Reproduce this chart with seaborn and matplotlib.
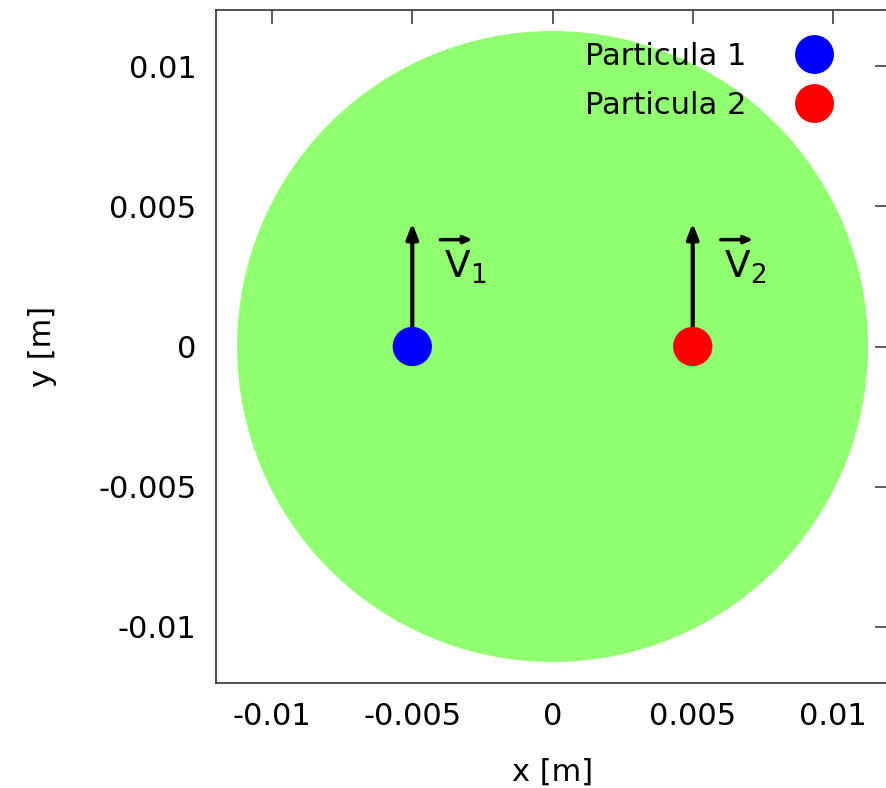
import matplotlib
matplotlib.use("Agg")
import matplotlib.pyplot as plt
import seaborn as sns
import pandas as pd
from matplotlib.patches import Circle

# data
names = ["Particula 1", "Particula 2"]
px = [-0.005, 0.005]
py = [0.0, 0.0]
colors = ["#0000FF", "#FF0000"]
vel_len = [0.0044, 0.0044]
vel_labels = [r"$\mathregular{V_1}$", r"$\mathregular{V_2}$"]
circle_center = (0.0, 0.0)
circle_radius = 0.01125
xticks = [-0.01, -0.005, 0, 0.005, 0.01]
yticks = [-0.01, -0.005, 0, 0.005, 0.01]
tick_labels = ["-0.01", "-0.005", "0", "0.005", "0.01"]

sns.set_style("white")
plt.rcParams["font.family"] = ["DejaVu Sans"]
plt.rcParams["text.color"] = "black"
plt.rcParams["axes.labelcolor"] = "black"

fig = plt.figure(figsize=(8.86, 7.88), dpi=100)
ax = fig.add_axes([216 / 886, 105 / 788, 673 / 886, 673 / 788])

ax.add_patch(Circle(circle_center, circle_radius, facecolor="#90FF70", edgecolor="none", zorder=1))

for x0, y0, L in zip(px, py, vel_len):
    ax.annotate("", xy=(x0, y0 + L), xytext=(x0, y0),
                arrowprops=dict(arrowstyle="-|>,head_length=0.9,head_width=0.35",
                                color="black", lw=3, shrinkA=0, shrinkB=0),
                zorder=2)

df = pd.DataFrame({"x": px, "y": py, "name": names})
sns.scatterplot(data=df, x="x", y="y", hue="name", palette=colors, s=800,
                edgecolor="none", linewidth=0, ax=ax, zorder=3)

for x0, lab in zip(px, vel_labels):
    ax.text(x0 + 0.00112, 0.00246, lab, fontsize=27, ha="left", va="baseline", zorder=4)
    ax.annotate("", xy=(x0 + 0.00215, 0.00381), xytext=(x0 + 0.001, 0.00381),
                arrowprops=dict(arrowstyle="-|>,head_length=0.5,head_width=0.22",
                                color="black", lw=2.5, shrinkA=0, shrinkB=0), zorder=4)

ax.set_xlim(-0.012, 0.012)
ax.set_ylim(-0.012, 0.012)
ax.set_xticks(xticks)
ax.set_xticklabels(tick_labels)
ax.set_yticks(yticks)
ax.set_yticklabels(tick_labels)
ax.tick_params(direction="in", length=10, width=1.2, color="#404040", labelcolor="black",
               top=True, right=True, labelsize=22, pad=14)
for s in ax.spines.values():
    s.set_color("#404040")
    s.set_linewidth(1.3)
ax.set_xlabel("x [m]", fontsize=22, labelpad=19)
ax.set_ylabel("y [m]", fontsize=22, labelpad=30)

leg = ax.legend(loc="upper right", bbox_to_anchor=(0.965, 0.984), markerfirst=False,
                frameon=False, fontsize=22, title=None, handletextpad=1.2,
                labelspacing=0.65, borderaxespad=0.3, markerscale=1.0)
for h in leg.legend_handles:
    try:
        h.set_markersize(28)
    except AttributeError:
        h.set_sizes([800])

fig.savefig("out.png", dpi=100)
